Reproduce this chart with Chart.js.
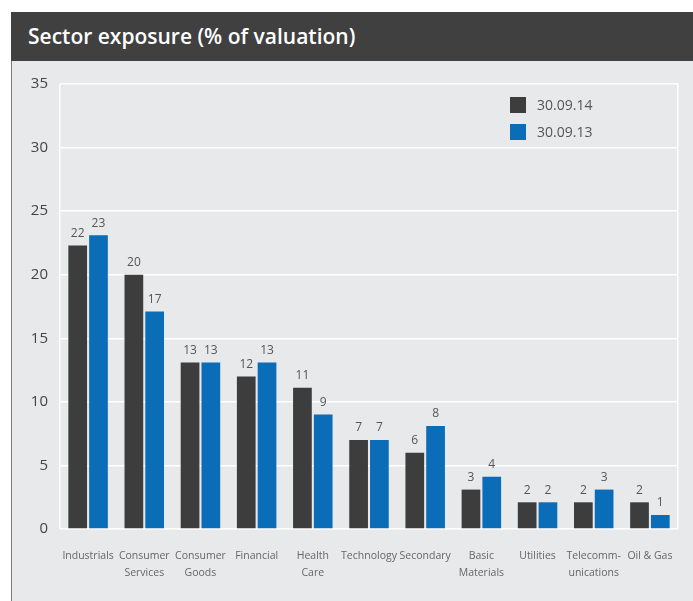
<!DOCTYPE html>
<html>
<head>
<meta charset="utf-8">
<script src="https://cdn.jsdelivr.net/npm/chart.js@4.4.1/dist/chart.umd.min.js"></script>
<style>
    body { margin: 0; background: #fff; font-family: "Open Sans", sans-serif; }
    #frame { position: absolute; left: 11px; top: 12px; width: 682px; height: 589px; }
    #header { height: 49px; background: #404040; color: #fff; font-size: 21px; font-weight: 600;
              line-height: 49px; padding-left: 17px; box-sizing: border-box; }
    #panel { height: 540px; background: #e8e9eb; border-left: 1px solid #7a7a7a; }
    #wrap { position: relative; width: 681px; height: 540px; }
</style>
</head>
<body>
<div id="frame">
    <div id="header">Sector exposure (% of valuation)</div>
    <div id="panel"><div id="wrap"><canvas id="grafico"></canvas></div></div>
</div>
<script>
/* -------------------- DADOS -------------------- */
const categorias = [
    "Industrials", ["Consumer", "Services"], ["Consumer", "Goods"], "Financial", ["Health", "Care"],
    "Technology", "Secondary", ["Basic", "Materials"], "Utilities", ["Telecomm-", "unications"], "Oil & Gas"
];
const serie2014 = [22.3, 20.0, 13.1, 12.0, 11.1, 7.0, 6.0, 3.1, 2.1, 2.1, 2.1];
const serie2013 = [23.1, 17.1, 13.1, 13.1, 9.0, 7.0, 8.1, 4.1, 2.1, 3.1, 1.1];
const nomesSeries = ["30.09.14", "30.09.13"];
const coresSeries = ["#3d3d3d", "#0b6cb8"];
const ticksY = [0, 5, 10, 15, 20, 25, 30, 35];

/* -------------------- PLUGINS -------------------- */
const rotulos = {
    id: "rotulos",
    afterDatasetsDraw(chart) {
        const { ctx } = chart;
        ctx.save();
        ctx.font = "12px 'Open Sans', sans-serif";
        ctx.fillStyle = "#555";
        ctx.textAlign = "center";
        ctx.textBaseline = "bottom";
        chart.data.datasets.forEach((ds, i) => {
            chart.getDatasetMeta(i).data.forEach((bar, j) => {
                ctx.fillText(Math.round(ds.data[j]), bar.x, bar.y - 6);
            });
        });
        ctx.restore();
    }
};

const legenda = {
    id: "legenda",
    afterDraw(chart) {
        const { ctx, chartArea } = chart;
        const x = chartArea.left + 450;
        ctx.save();
        ctx.font = "14px 'Open Sans', sans-serif";
        ctx.textBaseline = "middle";
        nomesSeries.forEach((n, i) => {
            const y = chartArea.top + 21 + i * 27;
            ctx.fillStyle = coresSeries[i];
            ctx.fillRect(x, y - 8, 16, 16);
            ctx.fillStyle = "#555";
            ctx.fillText(n, x + 27, y + 1);
        });
        ctx.restore();
    }
};

/* -------------------- GRAFICO -------------------- */
new Chart(document.getElementById("grafico"), {
    type: "bar",
    data: {
        labels: categorias,
        datasets: [
            { label: nomesSeries[0], data: serie2014, backgroundColor: coresSeries[0] },
            { label: nomesSeries[1], data: serie2013, backgroundColor: coresSeries[1] }
        ]
    },
    options: {
        responsive: true,
        maintainAspectRatio: false,
        animation: false,
        layout: { padding: { left: 0, right: 15, top: 23, bottom: 0 } },
        datasets: { bar: { categoryPercentage: 0.74, barPercentage: 0.9 } },
        plugins: { legend: { display: false }, tooltip: { enabled: false } },
        scales: {
            x: {
                afterFit: s => { s.height = 72; },
                border: { display: false },
                grid: {
                    drawTicks: false,
                    lineWidth: 1.5,
                    color: c => (c.index === 0 || c.index === undefined) ? "#fff" : "rgba(0,0,0,0)"
                },
                ticks: {
                    padding: 19, color: "#666", autoSkip: false, maxRotation: 0, minRotation: 0,
                    font: { family: "'Open Sans', sans-serif", size: 10.5, lineHeight: 1.6 }
                }
            },
            y: {
                min: 0,
                max: 35,
                afterFit: s => { s.width = 48; },
                afterBuildTicks: s => { s.ticks = ticksY.map(v => ({ value: v })); },
                border: { display: false },
                grid: { drawTicks: false, color: "#fff", lineWidth: 1.5 },
                ticks: { padding: 12, color: "#444", font: { family: "'Open Sans', sans-serif", size: 15 } }
            }
        }
    },
    plugins: [rotulos, legenda]
});
</script>
</body>
</html>
